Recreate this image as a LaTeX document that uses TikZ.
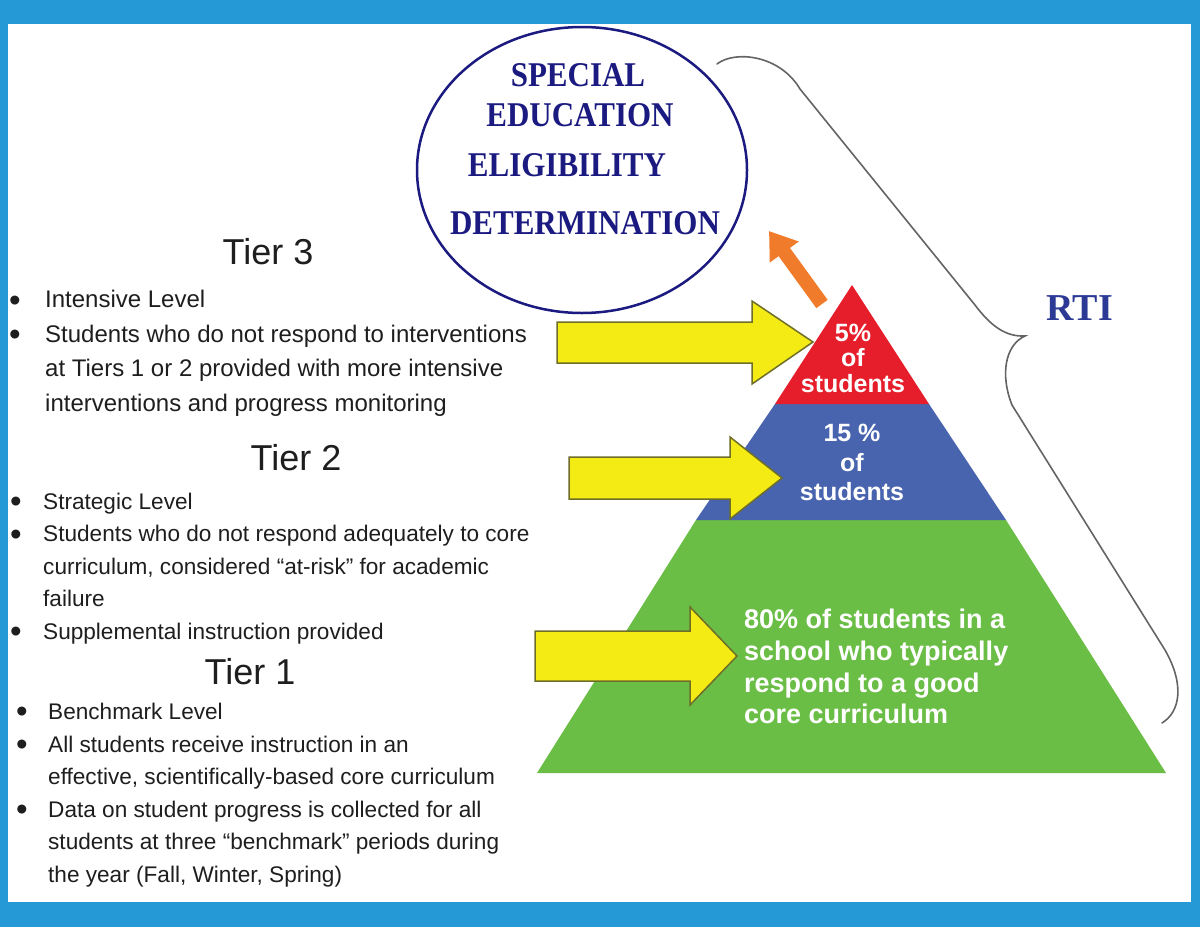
\documentclass[tikz,border=0pt]{standalone}
\usepackage{fontspec}
\setmainfont{Liberation Sans}
\newfontfamily\titleserif{Liberation Serif}
\usetikzlibrary{arrows.meta,shapes.geometric}

\definecolor{frameblue}{RGB}{36,153,213}
\definecolor{sednavy}{RGB}{26,26,128}
\definecolor{rtinavy}{RGB}{44,58,150}
\definecolor{inkgray}{RGB}{30,30,30}
\definecolor{tierred}{RGB}{230,30,43}
\definecolor{tierblue}{RGB}{72,100,174}
\definecolor{tiergreen}{RGB}{106,189,69}
\definecolor{arrowyellow}{RGB}{245,235,20}
\definecolor{arrowolive}{RGB}{110,110,40}
\definecolor{arroworange}{RGB}{240,123,42}
\definecolor{bracegray}{RGB}{100,100,100}

\newcommand\tbul{\raisebox{-3.2pt}{\fontsize{33}{0}\selectfont •}}

\begin{document}
\begin{tikzpicture}[x=1pt, y=-1pt,
  every node/.style={inner sep=0pt},
  tierhead/.style={font=\fontsize{36}{40}\selectfont, text=inkgray},
  tierlist/.style={text=inkgray, anchor=north west},
  pyrtext/.style={font=\bfseries\fontsize{25}{24}\selectfont, text=white},
  yarrow/.style={fill=arrowyellow, draw=arrowolive, line width=1.5pt, line join=miter},
  sedline/.style={font=\titleserif\bfseries\fontsize{31}{34}\selectfont, text=sednavy},
]
\useasboundingbox (0,0) rectangle (1200,927);
\fill[frameblue] (0,0) rectangle (1200,927);
\fill[white] (8,24) rectangle (1191,902);

% eligibility circle
\node[ellipse, draw=sednavy, line width=2.5pt, minimum width=330pt, minimum height=286pt] (sped) at (582,170) {};
\node[sedline] (sedA) at (578,75) {\scalebox{1}[1.12]{SPECIAL}};
\node[sedline] (sedB) at (580,115) {\scalebox{1}[1.12]{EDUCATION}};
\node[sedline] (sedC) at (567,165) {\scalebox{1}[1.12]{ELIGIBILITY}};
\node[sedline] (sedD) at (585,223) {\scalebox{1}[1.12]{DETERMINATION}};

% pyramid
\coordinate (apex) at (852,285);
\fill[tiergreen] (696,520) -- (1006,520) -- (1166,773) -- (537,773) -- cycle;
\fill[tierblue] (775,404) -- (929,404) -- (1006,520) -- (696,520) -- cycle;
\fill[tierred] (apex) -- (929,404) -- (775,404) -- cycle;

\node[pyrtext, anchor=north] (redtxt) at (853,324)
  {\begin{tabular}{@{}c@{}}5\%\\of\\students\end{tabular}};
\node[pyrtext, anchor=north, font=\bfseries\fontsize{25}{29.5}\selectfont] (bluetxt) at (852,421)
  {\begin{tabular}{@{}c@{}}15 \%\\of\\students\end{tabular}};
\node[pyrtext, anchor=north west, font=\bfseries\fontsize{27}{31.7}\selectfont] (greentxt) at (744,606.5)
  {\begin{tabular}{@{}l@{}}80\% of students in a\\school who typically\\respond to a good\\core curriculum\end{tabular}};

% arrows
\coordinate (otail) at (822,304);
\coordinate (otip) at (769,231);
\draw[arroworange, line width=14pt, -{Triangle[width=34pt,length=26pt]}] (otail) -- (otip);

\draw[yarrow] (557,322) -- (752,322) -- (752,301) -- (813,342) -- (752,384) -- (752,363) -- (557,363) -- cycle;
\draw[yarrow] (569,457) -- (730,457) -- (730,437) -- (782,478) -- (730,519) -- (730,499) -- (569,499) -- cycle;
\draw[yarrow] (535,631) -- (690,631) -- (690,607) -- (737,656) -- (690,705) -- (690,681) -- (535,681) -- cycle;

% RTI brace
\draw[bracegray, line width=1.6pt, line cap=round]
  (717,64) .. controls (735,50) and (780,55) .. (800,89) -- (975,305)
  .. controls (990,325) and (1005,337) .. (1025,336)
  .. controls (1005,345) and (1000,375) .. (1012,405) -- (1165,650)
  .. controls (1185,685) and (1180,712) .. (1162,723);
\node[font=\titleserif\bfseries\fontsize{38}{40}\selectfont, text=rtinavy] (rti) at (1080,308) {RTI};

% tier texts
\node[tierhead] (t3head) at (268,252) {Tier 3};
\node[tierlist, font=\fontsize{24}{34.5}\selectfont] (t3list) at (9,283.5)
  {\begin{tabular}{@{}p{36pt}@{}l@{}}
   \tbul & Intensive Level\\
   \tbul & Students who do not respond to interventions\\
     & at Tiers 1 or 2 provided with more intensive\\
     & interventions and progress monitoring
   \end{tabular}};

\node[tierhead] (t2head) at (296,458) {Tier 2};
\node[tierlist, font=\fontsize{22.6}{32.5}\selectfont] (t2list) at (10,486.5)
  {\begin{tabular}{@{}p{33pt}@{}l@{}}
   \tbul & Strategic Level\\
   \tbul & Students who do not respond adequately to core\\
     & curriculum, considered “at-risk” for academic\\
     & failure\\
   \tbul & Supplemental instruction provided
   \end{tabular}};

\node[tierhead] (t1head) at (250,672) {Tier 1};
\node[tierlist, font=\fontsize{22.6}{32.6}\selectfont] (t1list) at (16,696.5)
  {\begin{tabular}{@{}p{32pt}@{}l@{}}
   \tbul & Benchmark Level\\
   \tbul & All students receive instruction in an\\
     & effective, scientifically-based core curriculum\\
   \tbul & Data on student progress is collected for all\\
     & students at three “benchmark” periods during\\
     & the year (Fall, Winter, Spring)
   \end{tabular}};
\end{tikzpicture}
\end{document}
